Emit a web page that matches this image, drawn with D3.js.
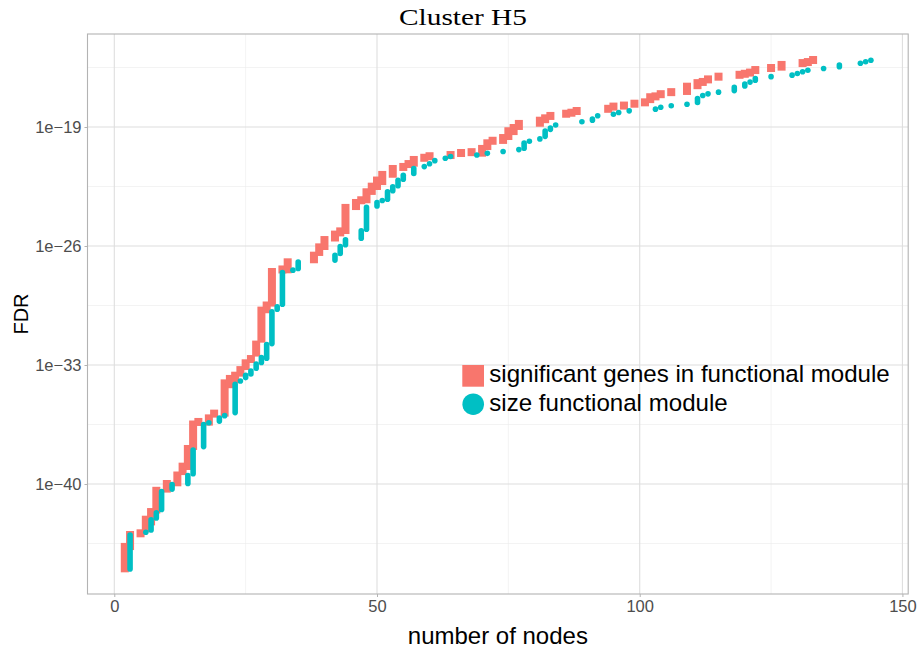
<!DOCTYPE html>
<html>
<head>
<meta charset="utf-8">
<script src="https://cdn.jsdelivr.net/npm/d3@7"></script>
<style>
  body { margin: 0; background: #fff; }
  text { font-family: "Liberation Sans", Arial, sans-serif; }
</style>
</head>
<body>
<div id="chart"></div>
<script>
// FDR per number of nodes, log10 values; lo/hi give the spread of stacked points
const sigNodes = [2,3,5,6,7,8,10,12,13,14,15,16,18,19,21,22,23,24,25,26,27,28,29,30,32,33,38,39,40,42,43,44,46,47,48,49,50,51,53,55,56,57,59,60,64,66,68,70,71,72,74,75,76,77,81,82,83,86,87,88,94,95,97,99,101,102,103,104,106,109,111,112,113,115,119,120,121,122,125,127,131,132,133]
const sigLo = [-44.96,-43.65,-42.9,-42.6,-42.2,-41.5,-40.27,-39.9,-39.24,-38.94,-37.76,-36.35,-36.33,-35.86,-35.8,-34.13,-33.84,-33.45,-33.06,-32.65,-32.27,-31.45,-29.72,-29.33,-27.38,-27.37,-26.78,-26.35,-26.0,-25.5,-25.2,-25.06,-23.65,-23.31,-23.25,-22.76,-22.47,-22.18,-21.75,-21.35,-21.18,-21.1,-20.81,-20.72,-20.65,-20.53,-20.48,-20.51,-20.12,-19.81,-19.76,-19.53,-19.24,-18.94,-18.75,-18.54,-18.35,-18.22,-18.16,-18.06,-17.93,-17.8,-17.74,-17.63,-17.55,-17.36,-17.2,-17.07,-16.95,-16.88,-16.54,-16.35,-16.2,-16.04,-15.93,-15.87,-15.8,-15.65,-15.53,-15.45,-15.24,-15.18,-15.06]
const sigHi = [-43.7,-43.0,-42.9,-42.1,-41.65,-40.4,-40.0,-39.5,-38.98,-37.94,-36.5,-36.35,-36.14,-35.86,-34.08,-33.82,-33.63,-33.3,-32.9,-32.65,-31.8,-29.8,-29.5,-27.53,-27.38,-26.96,-26.57,-26.08,-25.65,-25.33,-25.14,-23.76,-23.47,-23.31,-22.84,-22.51,-22.15,-21.82,-21.47,-21.35,-21.18,-20.94,-20.81,-20.72,-20.65,-20.53,-20.48,-20.29,-19.96,-19.81,-19.65,-19.25,-19.06,-18.82,-18.63,-18.49,-18.35,-18.22,-18.16,-18.06,-17.93,-17.8,-17.74,-17.63,-17.55,-17.25,-17.2,-17.07,-16.95,-16.63,-16.42,-16.35,-16.2,-16.04,-15.93,-15.87,-15.8,-15.65,-15.53,-15.35,-15.24,-15.18,-15.06]

const sizeNodes = [3,6,7,8,9,11,14,15,17,18,20,21,23,24,25,26,27,28,29,30,31,32,34,35,42,43,44,47,48,50,51,52,53,54,55,57,59,60,61,63,64,69,71,74,77,78,79,81,82,83,84,89,91,92,95,96,98,103,104,106,109,111,112,113,115,118,120,121,122,125,129,130,131,132,135,138,142,143,144]
const sizeLo = [-45.0,-42.84,-42.7,-42.0,-41.5,-40.3,-39.97,-39.4,-37.8,-36.4,-36.3,-35.98,-35.8,-33.94,-33.74,-33.53,-33.19,-32.85,-32.6,-31.74,-29.72,-29.42,-27.42,-27.32,-26.83,-26.44,-25.93,-25.54,-25.01,-23.64,-23.32,-23.25,-22.75,-22.46,-22.07,-21.74,-21.33,-21.16,-20.98,-20.84,-20.74,-20.65,-20.55,-20.44,-20.33,-20.25,-19.84,-19.7,-19.55,-19.14,-18.88,-18.69,-18.6,-18.34,-18.25,-18.15,-18.05,-17.95,-17.84,-17.75,-17.66,-17.56,-17.15,-17.05,-16.95,-16.86,-16.59,-16.36,-16.25,-16.04,-15.95,-15.85,-15.75,-15.66,-15.56,-15.46,-15.25,-15.16,-15.07]
const sizeHi = [-43.0,-42.84,-42.1,-41.7,-40.45,-40.03,-39.5,-38.0,-36.5,-36.4,-36.12,-35.98,-34.13,-33.94,-33.6,-33.35,-32.94,-32.56,-31.8,-29.87,-29.58,-27.56,-27.42,-26.94,-26.54,-26.03,-25.63,-25.1,-23.73,-23.44,-23.32,-22.81,-22.52,-22.13,-21.84,-21.44,-21.33,-21.16,-20.98,-20.84,-20.74,-20.65,-20.55,-20.44,-20.33,-19.95,-19.84,-19.7,-19.24,-19.06,-18.88,-18.69,-18.53,-18.34,-18.25,-18.15,-18.05,-17.95,-17.84,-17.75,-17.66,-17.32,-17.15,-17.05,-16.95,-16.67,-16.47,-16.36,-16.15,-16.04,-15.95,-15.85,-15.75,-15.66,-15.56,-15.36,-15.25,-15.16,-15.07]

const xTicks = [0, 50, 100, 150]
const xMinor = [25, 75, 125]
const yTickExp = [-19, -26, -33, -40]
const yMinorExp = [-15.5, -22.5, -29.5, -36.5, -43.5]
const seriesNames = ["significant genes in functional module", "size functional module"]
const colors = ["#F8766D", "#00BFC4"]

const W = 920, H = 657
const panel = {left: 87.5, right: 908.2, top: 34, bottom: 594}

const svg = d3.select("#chart").append("svg")
  .attr("width", W).attr("height", H)

const x = d3.scaleLinear()
  .domain([-5.1, 151.1])
  .range([panel.left, panel.right])

const y = d3.scaleLog()
  .domain([Math.pow(10, -46.47), Math.pow(10, -13.53)])
  .range([panel.bottom, panel.top])

const ten = e => Math.pow(10, e)

// grid
const grid = svg.append("g")
grid.selectAll(".xminor").data(xMinor).join("line")
  .attr("x1", d => x(d)).attr("x2", d => x(d))
  .attr("y1", panel.top).attr("y2", panel.bottom)
  .attr("stroke", "#EBEBEB").attr("stroke-width", 0.6)
grid.selectAll(".yminor").data(yMinorExp).join("line")
  .attr("x1", panel.left).attr("x2", panel.right)
  .attr("y1", d => y(ten(d))).attr("y2", d => y(ten(d)))
  .attr("stroke", "#EBEBEB").attr("stroke-width", 0.6)
grid.selectAll(".xmajor").data(xTicks).join("line")
  .attr("x1", d => x(d)).attr("x2", d => x(d))
  .attr("y1", panel.top).attr("y2", panel.bottom)
  .attr("stroke", "#DEDEDE").attr("stroke-width", 1.1)
grid.selectAll(".ymajor").data(yTickExp).join("line")
  .attr("x1", panel.left).attr("x2", panel.right)
  .attr("y1", d => y(ten(d))).attr("y2", d => y(ten(d)))
  .attr("stroke", "#DEDEDE").attr("stroke-width", 1.1)

// squares: significant genes
const sq = 8
const sigData = sigNodes.map((n, i) => ({n, lo: sigLo[i], hi: sigHi[i]}))
svg.append("g").selectAll("rect").data(sigData).join("rect")
  .attr("x", d => x(d.n) - sq / 2)
  .attr("y", d => y(ten(d.hi)) - sq / 2)
  .attr("width", sq)
  .attr("height", d => y(ten(d.lo)) - y(ten(d.hi)) + sq)
  .attr("fill", colors[0])

// circles: module size
const r = 2.8
const sizeData = sizeNodes.map((n, i) => ({n, lo: sizeLo[i], hi: sizeHi[i]}))
svg.append("g").selectAll("rect").data(sizeData).join("rect")
  .attr("x", d => x(d.n) - r)
  .attr("y", d => y(ten(d.hi)) - r)
  .attr("width", 2 * r)
  .attr("height", d => y(ten(d.lo)) - y(ten(d.hi)) + 2 * r)
  .attr("rx", r).attr("ry", r)
  .attr("fill", colors[1])

// panel border
svg.append("rect")
  .attr("x", panel.left).attr("y", panel.top)
  .attr("width", panel.right - panel.left).attr("height", panel.bottom - panel.top)
  .attr("fill", "none").attr("stroke", "#B3B3B3").attr("stroke-width", 1.1)

// axes
const xAxis = svg.append("g")
  .attr("transform", `translate(0,${panel.bottom})`)
  .call(d3.axisBottom(x).tickValues(xTicks).tickSize(3).tickPadding(3))
const yAxis = svg.append("g")
  .attr("transform", `translate(${panel.left},0)`)
  .call(d3.axisLeft(y).tickValues(yTickExp.map(ten)).tickSize(3).tickPadding(3)
    .tickFormat(d => "1e" + String(Math.round(Math.log10(d))).replace("-", "\u2212")))

for (const a of [xAxis, yAxis]) {
  a.select(".domain").remove()
  a.selectAll(".tick line").attr("stroke", "#B3B3B3")
  a.selectAll(".tick text")
    .attr("fill", "#4D4D4D")
    .style("font-size", "16.5px")
    .style("font-family", "'Liberation Sans', Arial, sans-serif")
}

// titles
svg.append("text")
  .attr("x", 463).attr("y", 25)
  .attr("text-anchor", "middle")
  .attr("textLength", 128).attr("lengthAdjust", "spacingAndGlyphs")
  .style("font-family", "'Liberation Serif', 'Times New Roman', serif")
  .style("font-size", "24px")
  .text("Cluster H5")

svg.append("text")
  .attr("x", (panel.left + panel.right) / 2).attr("y", 644)
  .attr("text-anchor", "middle")
  .style("font-size", "24px")
  .text("number of nodes")

svg.append("text")
  .attr("transform", `translate(27.5,${(panel.top + panel.bottom) / 2}) rotate(-90)`)
  .attr("text-anchor", "middle")
  .style("font-size", "20px")
  .text("FDR")

// legend
const legend = svg.append("g")
legend.append("rect")
  .attr("x", 462.3).attr("y", 365).attr("width", 21.7).attr("height", 21.7)
  .attr("fill", colors[0])
legend.append("circle")
  .attr("cx", 473.2).attr("cy", 404.2).attr("r", 10.8)
  .attr("fill", colors[1])
legend.selectAll("text").data(seriesNames).join("text")
  .attr("x", 489.3)
  .attr("y", (d, i) => 382.3 + i * 28.7)
  .style("font-size", "24.1px")
  .text(d => d)
</script>
</body>
</html>
